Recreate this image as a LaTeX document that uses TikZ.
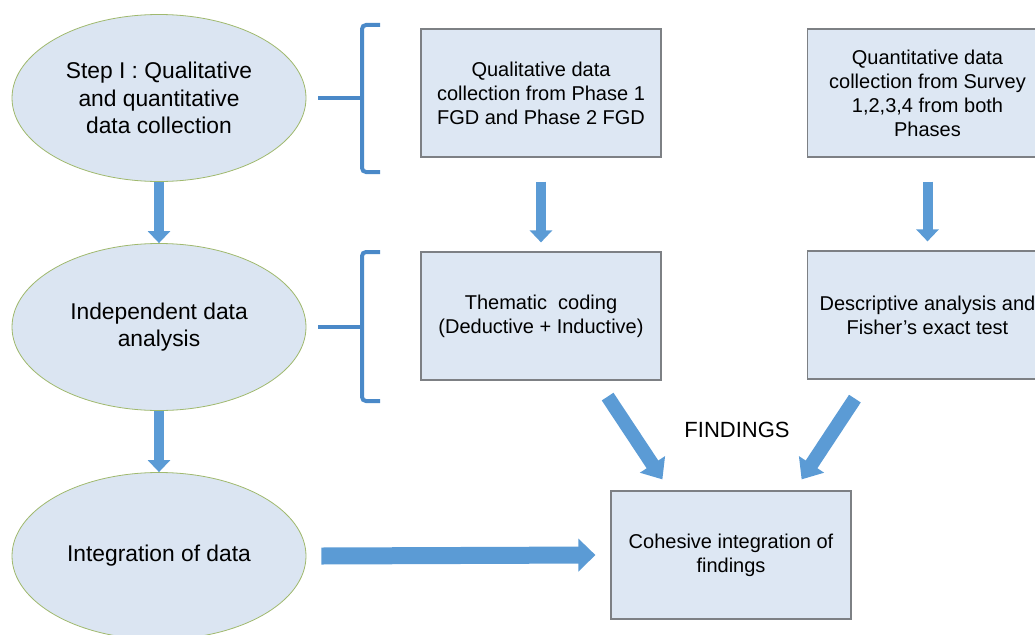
\documentclass[tikz,border=0pt]{standalone}
\usepackage{fontspec}
\setmainfont{Liberation Sans}
\usetikzlibrary{shapes.geometric,arrows.meta}
\definecolor{ellfill}{RGB}{219,229,242}
\definecolor{ellline}{RGB}{160,185,110}
\definecolor{boxfill}{RGB}{221,231,243}
\definecolor{boxline}{RGB}{125,128,132}
\definecolor{arrblue}{RGB}{91,155,213}
\definecolor{braceblue}{RGB}{74,137,200}
\begin{document}
\begin{tikzpicture}[x=1pt,y=-1pt,
  stage/.style={ellipse, draw=ellline, line width=0.8pt, fill=ellfill,
    minimum width=294pt, minimum height=167pt, inner sep=0pt, align=center,
    font=\fontsize{22.8}{27.5}\selectfont},
  infobox/.style={rectangle, draw=boxline, line width=1.2pt, fill=boxfill,
    minimum width=240pt, minimum height=128pt, inner sep=0pt, align=center,
    font=\fontsize{20}{24}\selectfont},
  vblock/.style={draw=arrblue, line width=10pt, -{Triangle[width=22pt,length=12pt]}},
  hblock/.style={draw=arrblue, line width=17pt, -{Triangle[width=32pt,length=17pt]}},
  dblock/.style={draw=arrblue, line width=14pt, -{Triangle[width=29pt,length=18pt]}},
  bracket/.style={draw=braceblue, line width=4pt},
  label/.style={font=\fontsize{22}{26}\selectfont}
]
\useasboundingbox (0,0) rectangle (1035,634);
\clip (0,0) rectangle (1035,634);

% stages
\node[stage] (e1) at (159,98) {Step I : Qualitative\\and quantitative\\data collection};
\node[stage] (e2) at (159,327) {Independent data\\analysis};
\node[stage] (e3) at (159,556) {Integration of data};

% boxes
\node[infobox] (q1) at (541,93) {Qualitative data\\collection from Phase 1\\FGD and Phase 2 FGD};
\node[infobox] (s1) at (927.5,93) {Quantitative data\\collection from Survey\\1,2,3,4 from both\\Phases};
\node[infobox] (t1) at (541,316) {Thematic\ \ coding\\(Deductive + Inductive)};
\node[infobox] (d1) at (927.5,315) {Descriptive analysis and\\Fisher’s exact test};
\node[infobox] (c1) at (731,555) {Cohesive integration of\\findings};

\node[label] (fd) at (737,430) {FINDINGS};

% brackets
\coordinate (b1t) at (380,25);
\coordinate (b1b) at (380,172);
\coordinate (b1m) at (362,98);
\draw[bracket, rounded corners=4pt] (b1t) -| (b1m) |- (b1b);
\draw[bracket] ([xshift=12pt]e1.east) -- (b1m);

\coordinate (b2t) at (380,252);
\coordinate (b2b) at (380,401);
\coordinate (b2m) at (362,327);
\draw[bracket, rounded corners=4pt] (b2t) -| (b2m) |- (b2b);
\draw[bracket] ([xshift=12pt]e2.east) -- (b2m);

% vertical arrows
\draw[vblock] (e1.south) -- (e2.north);
\draw[vblock] (e2.south) -- (e3.north);
\draw[vblock] ([yshift=-24pt]q1.south) -- ([yshift=9pt]t1.north);
\draw[vblock] ([yshift=-24pt]s1.south) -- ([yshift=9pt]d1.north);

% horizontal arrow
\draw[hblock] ([xshift=15pt]e3.east) -- ([xshift=-15pt]c1.west);

% diagonal arrows
\draw[dblock] ([xshift=-54pt,yshift=-16pt]t1.south east) -- ([xshift=52pt,yshift=11pt]c1.north west);
\draw[dblock] ([xshift=48pt,yshift=-19pt]d1.south west) -- ([xshift=-50pt,yshift=11pt]c1.north east);
\end{tikzpicture}
\end{document}
